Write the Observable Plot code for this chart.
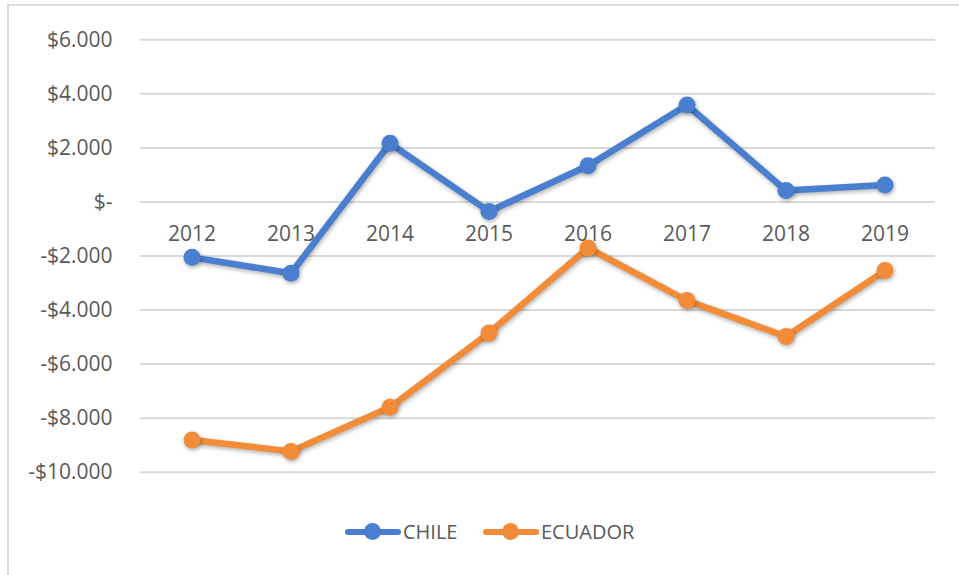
<!DOCTYPE html>
<html>
<head>
<meta charset="utf-8">
<script src="https://cdn.jsdelivr.net/npm/d3@7"></script>
<script src="https://cdn.jsdelivr.net/npm/@observablehq/plot@0.6"></script>
<style>
  html, body { margin: 0; padding: 0; background: #fff; }
  #wrap { position: relative; width: 959px; height: 575px; overflow: hidden; font-family: "Open Sans", sans-serif; }
  #frame { position: absolute; left: 7px; top: 4px; width: 960px; height: 580px; border-top: 2px solid #dcdcdc; border-left: 2px solid #dcdcdc; }
  #chart { position: absolute; left: 0; top: 0; }
  #legend { position: absolute; left: 0; top: 518px; width: 959px; height: 30px; }
  .item { position: absolute; top: 0; height: 30px; }
  .item .ln { position: absolute; top: 11px; height: 6px; border-radius: 3px; }
  .item .mk { position: absolute; top: 5px; width: 17px; height: 17px; border-radius: 50%; }
  .item .tx { position: absolute; top: 0; font-size: 20px; line-height: 28px; color: #595959; white-space: nowrap; }
</style>
</head>
<body>
<div id="wrap">
  <div id="frame"></div>
  <div id="chart"></div>
  <div id="legend"></div>
</div>
<script>
const years = ["2012", "2013", "2014", "2015", "2016", "2017", "2018", "2019"];
const chile = [-2050, -2640, 2170, -350, 1340, 3590, 420, 630];
const ecuador = [-8810, -9230, -7600, -4850, -1700, -3650, -4980, -2540];
const seriesNames = ["CHILE", "ECUADOR"];
const seriesColors = ["#4a7fd0", "#f28c38"];
const yTicks = [-10000, -8000, -6000, -4000, -2000, 0, 2000, 4000, 6000];

const rows = [];
years.forEach((y, i) => {
  rows.push({year: y, value: chile[i], series: seriesNames[0]});
  rows.push({year: y, value: ecuador[i], series: seriesNames[1]});
});

function fmt(v) {
  if (v === 0) return "$-";
  const s = d3.format(",")(Math.abs(v)).replace(/,/g, ".");
  return (v < 0 ? "-$" : "$") + s;
}

const chart = Plot.plot({
  width: 959,
  height: 500,
  marginTop: 39.3,
  marginBottom: 28.3,
  marginLeft: 140,
  marginRight: 24,
  style: {fontFamily: "Open Sans, sans-serif", fontSize: "21px", color: "#595959", background: "transparent"},
  x: {type: "band", domain: years, padding: 0, axis: null},
  y: {domain: [-10000, 6000], ticks: yTicks, tickFormat: fmt, tickSize: 0, tickPadding: 28, label: null},
  color: {domain: seriesNames, range: seriesColors},
  marks: [
    Plot.gridY(yTicks, {stroke: "#d9d9d9", strokeOpacity: 1, strokeWidth: 2}),
    Plot.axisY(yTicks, {tickFormat: fmt, tickSize: 0, tickPadding: 28, fill: "#595959", fontSize: 21, label: null}),
    Plot.text(years, {x: d => d, y: () => 0, text: d => d, dy: 32, fill: "#595959", fontSize: 21}),
    Plot.line(rows, {x: "year", y: "value", z: "series", stroke: "series", strokeWidth: 6.5, strokeLinejoin: "round", strokeLinecap: "round"}),
    Plot.dot(rows, {x: "year", y: "value", fill: "series", r: 8.5, stroke: "none"})
  ]
});
document.getElementById("chart").appendChild(chart);
d3.select(chart).selectAll('g[aria-label="line"], g[aria-label="dot"]')
  .style("filter", "drop-shadow(1px 2px 2px rgba(0,0,0,0.3))");

// legend
const legend = d3.select("#legend");
const items = [
  {name: seriesNames[0], color: seriesColors[0], x: 345},
  {name: seriesNames[1], color: seriesColors[1], x: 483}
];
items.forEach(it => {
  const g = legend.append("div").attr("class", "item").style("left", it.x + "px");
  g.append("div").attr("class", "ln").style("left", "0px").style("width", "56px").style("background", it.color);
  g.append("div").attr("class", "mk").style("left", "19px").style("background", it.color);
  g.append("div").attr("class", "tx").style("left", "58px").text(it.name);
});
</script>
</body>
</html>
